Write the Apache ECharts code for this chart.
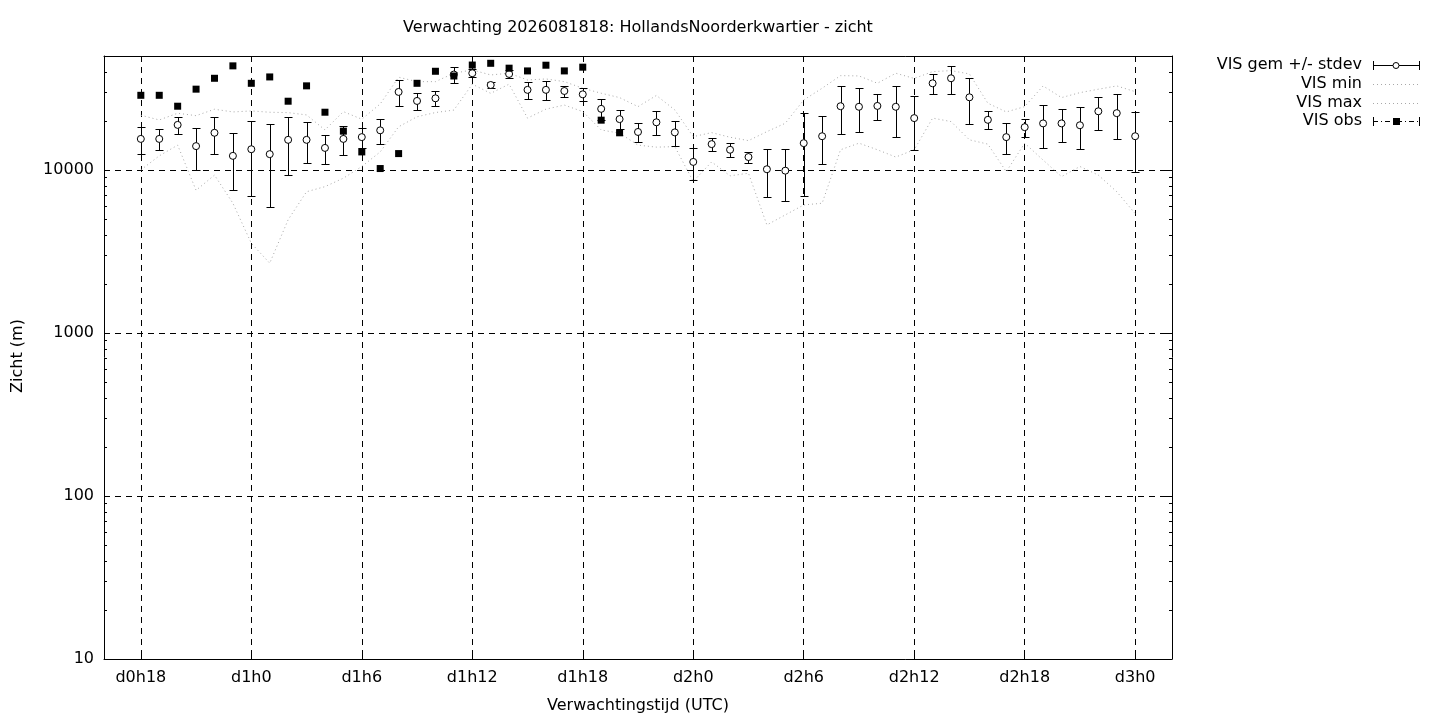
<!DOCTYPE html>
<html>
<head>
<meta charset="utf-8">
<script src="https://cdn.jsdelivr.net/npm/echarts@6/dist/echarts.min.js"></script>
<style>
html,body{margin:0;padding:0;background:#fff;}
#c{width:1440px;height:720px;}
</style>
</head>
<body>
<div id="c"></div>
<script>
// ---------- data ----------
const firstHour = 16;          // left edge of time axis (hours after d0h0)
const lastHour = 74;           // right edge of time axis
const fcStartHour = 18;        // first forecast hour (d0h18)
const obsStartHour = 18;       // first observation hour

// forecast mean visibility (m), hourly d0h18 .. d3h0
const visMean = [15500, 15500, 18900, 14000, 16900, 12200, 13400, 12500, 15300, 15300,
                 13650, 15500, 15900, 17500, 30100, 26500, 27500, 38500, 39200, 33200,
                 38800, 31000, 31000, 30500, 29100, 23700, 20500, 17100, 19600, 17000,
                 11200, 14400, 13300, 12000, 10100, 9900, 14600, 16100, 24600, 24400,
                 24700, 24400, 20800, 34000, 36500, 27900, 20300, 15900, 18300, 19300,
                 19300, 18800, 22900, 22300, 16100];
// standard deviation (m)
const visSd = [2900, 2250, 2250, 4050, 4300, 4650, 6450, 6550, 5950, 4300,
               2750, 3200, 2300, 3050, 5300, 3150, 2850, 4300, 2150, 1500,
               2000, 3700, 4000, 2450, 2650, 3500, 2750, 2250, 3300, 2950,
               2500, 1300, 1350, 950, 3300, 3450, 7650, 5200, 7900, 7350,
               4550, 8500, 7500, 4850, 7100, 8700, 2550, 3450, 2350, 5650,
               4400, 5400, 5300, 6900, 6450];
// ensemble minimum (m)
const visMin = [10000, 12200, 14200, 7500, 9300, 6250, 3550, 2680, 4950, 7350,
                7900, 8900, 10500, 12900, 18400, 21200, 22500, 23300, 33600, 29500,
                33600, 20800, 23600, 25000, 22800, 17600, 16800, 14200, 13800, 13900,
                8500, 11200, 9200, 9550, 4600, 5300, 6100, 6250, 13300, 14600,
                13300, 12000, 13300, 20800, 19800, 15300, 14400, 9750, 14600, 11500,
                9100, 10500, 9300, 7350, 5400];
// ensemble maximum (m)
const visMax = [21650, 20260, 22280, 21530, 23570, 22690, 23010, 22590, 22470, 21750,
                17600, 22790, 20470, 25400, 37050, 34810, 34810, 39190, 41070, 38260,
                39190, 35650, 36160, 34810, 31710, 29550, 27780, 24460, 28640, 23340,
                16010, 16940, 15870, 15130, 17180, 19340, 26880, 31710, 37890, 37730,
                34030, 39190, 36420, 40100, 40670, 38810, 25660, 22690, 24460, 32760,
                27780, 29800, 31270, 32760, 30230];
// observations (m), hourly d0h18 .. d1h20
const visObs = [28700, 28700, 24600, 31300, 36500, 43500, 34000, 37200, 26400, 32800,
                22600, 17300, 12900, 10200, 12600, 34000, 40300, 37700, 44000, 45100,
                42100, 40500, 43900, 40500, 42700, 20200, 16900];

const tickLabels = ['d0h18', 'd1h0', 'd1h6', 'd1h12', 'd1h18', 'd2h0', 'd2h6', 'd2h12', 'd2h18', 'd3h0'];
const yTickValues = [10, 100, 1000, 10000];
const yMin = 10, yMax = 50000;

const titleText = 'Verwachting 2026081818: HollandsNoorderkwartier - zicht';
const xTitle = 'Verwachtingstijd (UTC)';
const yTitle = 'Zicht (m)';
const legendNames = ['VIS gem +/- stdev', 'VIS min', 'VIS max', 'VIS obs'];

// ---------- build ----------
function hourLabel(h) { return 'd' + Math.floor(h / 24) + 'h' + (h % 24); }
const categories = [];
for (let h = firstHour; h <= lastHour; h++) categories.push(hourLabel(h));
const idxOf = h => h - firstHour;

const meanData = visMean.map((v, i) => [idxOf(fcStartHour + i), v]);
const errData = visMean.map((v, i) => [idxOf(fcStartHour + i), v - visSd[i], v + visSd[i]]);
const minData = visMin.map((v, i) => [idxOf(fcStartHour + i), v]);
const maxData = visMax.map((v, i) => [idxOf(fcStartHour + i), v]);
const obsData = visObs.map((v, i) => [idxOf(obsStartHour + i), v]);

const minorVals = [];
for (let e = 1; e <= 4; e++) {
  for (let m = 2; m <= 9; m++) {
    const v = m * Math.pow(10, e);
    if (v < yMax) minorVals.push([0, v]);
  }
}

const isTick = (i, name) => tickLabels.indexOf(name) >= 0;
const FONT = '"DejaVu Sans", "Liberation Sans", sans-serif';
const FS = 16;
const GRID = { left: 104, right: 268, top: 56, bottom: 61 };
const dotColor = '#a8a8a8';

const chart = echarts.init(document.getElementById('c'), null, { renderer: 'canvas' });

const legendY = [65, 84, 103, 121];
const lx1 = 1373, lx2 = 1420, ltx = 1362;
const graphics = [];
legendNames.forEach((n, i) => {
  graphics.push({ type: 'text', x: ltx, y: legendY[i],
    style: { text: n, align: 'right', verticalAlign: 'middle', font: FS + 'px ' + FONT, fill: '#000' } });
});
// legend symbols
graphics.push({ type: 'line', shape: { x1: lx1, y1: legendY[0] + 0.5, x2: lx2, y2: legendY[0] + 0.5 }, style: { stroke: '#000', lineWidth: 1 } });
graphics.push({ type: 'line', shape: { x1: lx1 + 0.5, y1: legendY[0] - 4, x2: lx1 + 0.5, y2: legendY[0] + 5 }, style: { stroke: '#000', lineWidth: 1 } });
graphics.push({ type: 'line', shape: { x1: lx2 - 0.5, y1: legendY[0] - 4, x2: lx2 - 0.5, y2: legendY[0] + 5 }, style: { stroke: '#000', lineWidth: 1 } });
graphics.push({ type: 'circle', shape: { cx: 1396, cy: legendY[0] + 0.5, r: 3 }, style: { fill: '#fff', stroke: '#000', lineWidth: 1 } });
[1, 2].forEach(i => graphics.push({ type: 'line', shape: { x1: lx1, y1: legendY[i] + 0.5, x2: lx2, y2: legendY[i] + 0.5 },
  style: { stroke: dotColor, lineWidth: 1, lineDash: [1, 3] } }));
graphics.push({ type: 'line', shape: { x1: lx1, y1: legendY[3] + 0.5, x2: lx2, y2: legendY[3] + 0.5 }, style: { stroke: '#000', lineWidth: 1, lineDash: [5, 3, 1, 3] } });
graphics.push({ type: 'line', shape: { x1: lx1 + 0.5, y1: legendY[3] - 4, x2: lx1 + 0.5, y2: legendY[3] + 5 }, style: { stroke: '#000', lineWidth: 1 } });
graphics.push({ type: 'line', shape: { x1: lx2 - 0.5, y1: legendY[3] - 4, x2: lx2 - 0.5, y2: legendY[3] + 5 }, style: { stroke: '#000', lineWidth: 1 } });
graphics.push({ type: 'rect', shape: { x: 1393, y: legendY[3] - 3, width: 7, height: 7 }, style: { fill: '#000' } });
// axis titles
graphics.push({ type: 'text', x: 638, y: 706,
  style: { text: xTitle, align: 'center', verticalAlign: 'middle', font: FS + 'px ' + FONT, fill: '#000' } });
graphics.push({ type: 'text', x: 18, y: 356, rotation: Math.PI / 2,
  style: { text: yTitle, align: 'center', verticalAlign: 'middle', font: FS + 'px ' + FONT, fill: '#000' } });

const xAxisBase = {
  type: 'category', data: categories, boundaryGap: false,
  axisLine: { show: true, onZero: false, lineStyle: { color: '#000', width: 1 } },
  axisTick: { show: true, inside: true, length: 6, interval: isTick, lineStyle: { color: '#000' } }
};
const yAxisBase = {
  type: 'log', logBase: 10, min: yMin, max: yMax,
  axisLine: { show: true, lineStyle: { color: '#000', width: 1 } },
  axisTick: { show: true, inside: true, length: 6, lineStyle: { color: '#000' } }
};

const option = {
  animation: false,
  backgroundColor: '#fff',
  title: { text: titleText, left: 638, top: 20, textAlign: 'center', padding: 0,
    textStyle: { fontFamily: FONT, fontSize: FS, fontWeight: 'normal', color: '#000' } },
  grid: Object.assign({ containLabel: false, show: false }, GRID),
  xAxis: [
    Object.assign({}, xAxisBase, {
      position: 'bottom',
      axisLabel: { show: true, interval: isTick, margin: 11, fontFamily: FONT, fontSize: FS, color: '#000' },
      splitLine: { show: true, interval: isTick, lineStyle: { color: '#000', width: 1, type: [6, 5] } }
    }),
    Object.assign({}, xAxisBase, {
      position: 'top', axisLabel: { show: false }, splitLine: { show: false }
    })
  ],
  yAxis: [
    Object.assign({}, yAxisBase, {
      position: 'left',
      axisLabel: { show: true, margin: 10, fontFamily: FONT, fontSize: FS, color: '#000',
        formatter: v => (yTickValues.indexOf(Math.round(v)) >= 0 ? String(Math.round(v)) : '') },
      splitLine: { show: true, lineStyle: { color: '#000', width: 1, type: [6, 5] } }
    }),
    Object.assign({}, yAxisBase, {
      position: 'right', axisLabel: { show: false }, splitLine: { show: false }
    })
  ],
  graphic: graphics,
  series: [
    {
      name: 'minorTicks', type: 'custom', silent: true, xAxisIndex: 0, yAxisIndex: 0,
      data: minorVals, encode: { x: 0, y: 1 },
      renderItem: function (params, api) {
        const cs = params.coordSys;
        const p = api.coord([0, api.value(1)]);
        const y = Math.round(p[1]) + 0.5;
        return { type: 'group', children: [
          { type: 'line', shape: { x1: cs.x, y1: y, x2: cs.x + 3, y2: y }, style: { stroke: '#000', lineWidth: 1 } },
          { type: 'line', shape: { x1: cs.x + cs.width - 3, y1: y, x2: cs.x + cs.width, y2: y }, style: { stroke: '#000', lineWidth: 1 } }
        ] };
      }
    },
    {
      name: legendNames[1], type: 'line', data: minData, symbol: 'none', smooth: false,
      lineStyle: { color: dotColor, width: 1, type: [1, 3] }, z: 2
    },
    {
      name: legendNames[2], type: 'line', data: maxData, symbol: 'none', smooth: false,
      lineStyle: { color: dotColor, width: 1, type: [1, 3] }, z: 2
    },
    {
      name: legendNames[0] + ' bars', type: 'custom', data: errData, encode: { x: 0, y: [1, 2] }, z: 3,
      renderItem: function (params, api) {
        const x = api.value(0);
        const lo = api.coord([x, api.value(1)]);
        const hi = api.coord([x, api.value(2)]);
        const cx = Math.round(lo[0]) + 0.5;
        const yl = Math.round(lo[1]) + 0.5, yh = Math.round(hi[1]) + 0.5;
        const w = 4;
        const st = { stroke: '#000', lineWidth: 1 };
        return { type: 'group', children: [
          { type: 'line', shape: { x1: cx, y1: yl, x2: cx, y2: yh }, style: st },
          { type: 'line', shape: { x1: cx - w, y1: yl, x2: cx + w, y2: yl }, style: st },
          { type: 'line', shape: { x1: cx - w, y1: yh, x2: cx + w, y2: yh }, style: st }
        ] };
      }
    },
    {
      name: legendNames[0], type: 'scatter', data: meanData, symbol: 'circle', symbolSize: 7, z: 4,
      itemStyle: { color: '#fff', borderColor: '#000', borderWidth: 1, opacity: 1 }
    },
    {
      name: legendNames[3], type: 'scatter', data: obsData, symbol: 'rect', symbolSize: 7, z: 5,
      itemStyle: { color: '#000', opacity: 1 }
    }
  ]
};
chart.setOption(option);
</script>
</body>
</html>
